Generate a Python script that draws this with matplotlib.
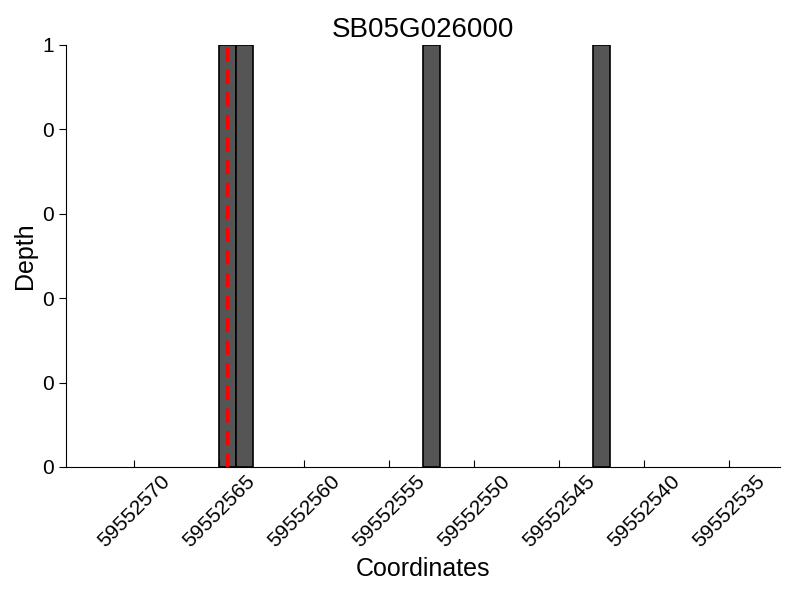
import numpy as np
import matplotlib
matplotlib.use('Agg')
import matplotlib.pyplot as plt
from matplotlib.ticker import FormatStrFormatter

plt.rcParams['font.family'] = ['Liberation Sans', 'DejaVu Sans']

positions = [59552564.5, 59552563.5, 59552552.5, 59552542.5]
depths = [1, 1, 1, 1]
marker_pos = 59552564.5
xticks = [59552570, 59552565, 59552560, 59552555, 59552550, 59552545, 59552540, 59552535]

fig = plt.figure(figsize=(8, 6), dpi=100)
ax = fig.add_axes([0.0825, 0.2217, 0.8925, 0.7033])
ax.bar(positions, depths, width=1, color='#555555', edgecolor='black', linewidth=1.2)
ax.axvline(marker_pos, color='red', linestyle=(0, (4, 2.5)), linewidth=2.5)
ax.set_xlim(59552574, 59552532)
ax.set_ylim(0, 1)
ax.set_xticks(xticks)
ax.set_xticklabels([str(t) for t in xticks], rotation=45, fontsize=15)
ax.set_yticks(np.linspace(0, 1, 6))
ax.yaxis.set_major_formatter(FormatStrFormatter('%d'))
ax.tick_params(axis='y', direction='out', labelsize=15, length=5)
ax.tick_params(axis='x', direction='in', length=5)
ax.spines['top'].set_visible(False)
ax.spines['right'].set_visible(False)
ax.set_title('SB05G026000', fontsize=20)
ax.set_xlabel('Coordinates', fontsize=18)
ax.set_ylabel('Depth', fontsize=18)
fig.savefig('out.png')
